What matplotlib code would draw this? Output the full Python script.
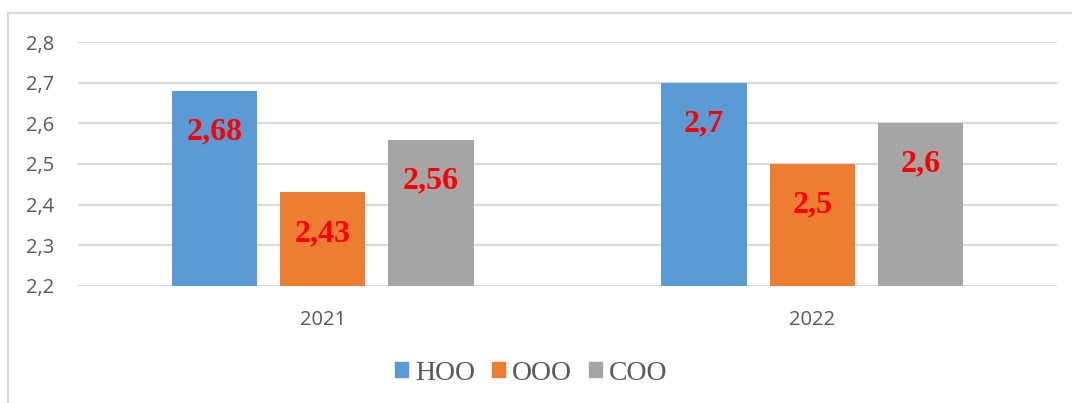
import numpy as np
import matplotlib
matplotlib.use("Agg")
import matplotlib.pyplot as plt
from matplotlib.lines import Line2D

years = ['2021', '2022']
series = ['HOO', 'OOO', 'COO']
hoo = [2.68, 2.70]
ooo = [2.43, 2.50]
coo = [2.56, 2.60]
labels = [['2,68', '2,7'], ['2,43', '2,5'], ['2,56', '2,6']]
colors = ['#5b9bd5', '#ed7d31', '#a5a5a5']
yticks = [2.2, 2.3, 2.4, 2.5, 2.6, 2.7, 2.8]
ytick_labels = ['2,2', '2,3', '2,4', '2,5', '2,6', '2,7', '2,8']

W, H = 1072, 403
fig = plt.figure(figsize=(W / 100, H / 100), dpi=100)
ax = fig.add_axes([78 / W, 1 - 286 / H, (1057 - 78) / W, (286 - 42) / H])

x = np.arange(len(years))
width = 0.174
step = 0.221
for i, (vals, c) in enumerate(zip([hoo, ooo, coo], colors)):
    pos = x + (i - 1) * step
    ax.bar(pos, np.array(vals) - 2.2, width, bottom=2.2, color=c, label=series[i], zorder=3)
    for p, v, t in zip(pos, vals, labels[i]):
        ax.annotate(t, (p, v), xytext=(0, -41), textcoords='offset pixels',
                    ha='center', va='center', color='red', fontsize=23,
                    fontweight='bold', family='Liberation Serif', zorder=4)

ax.set_xlim(-0.5, 1.5)
ax.set_ylim(2.2, 2.8)
ax.set_yticks(yticks)
ax.set_yticklabels(ytick_labels)
ax.set_xticks(x)
ax.set_xticklabels(years)
ax.grid(axis='y', color='#d9d9d9', linewidth=1.5, zorder=0)
for s in ax.spines.values():
    s.set_visible(False)
ax.tick_params(length=0, labelsize=14.5, labelcolor='#595959')
ax.tick_params(axis='y', pad=17)
ax.tick_params(axis='x', pad=17)
for t in ax.get_xticklabels() + ax.get_yticklabels():
    t.set_family('Open Sans')

handles = [plt.Rectangle((0, 0), 1, 1, color=c) for c in colors]
leg = fig.legend(handles, series, loc='center', bbox_to_anchor=(531 / W, 1 - 373 / H),
                 ncol=3, frameon=False, handlelength=0.48, handleheight=0.48,
                 handletextpad=0.25, columnspacing=0.6,
                 prop={'family': 'Liberation Serif', 'size': 20})
for t in leg.get_texts():
    t.set_color('#595959')

fig.add_artist(Line2D([8 / W, 1], [1 - 13 / H, 1 - 13 / H], color='#d9d9d9', linewidth=1.5))
fig.add_artist(Line2D([8 / W, 8 / W], [0, 1 - 13 / H], color='#d9d9d9', linewidth=1.5))

fig.savefig('out.png', dpi=100)
